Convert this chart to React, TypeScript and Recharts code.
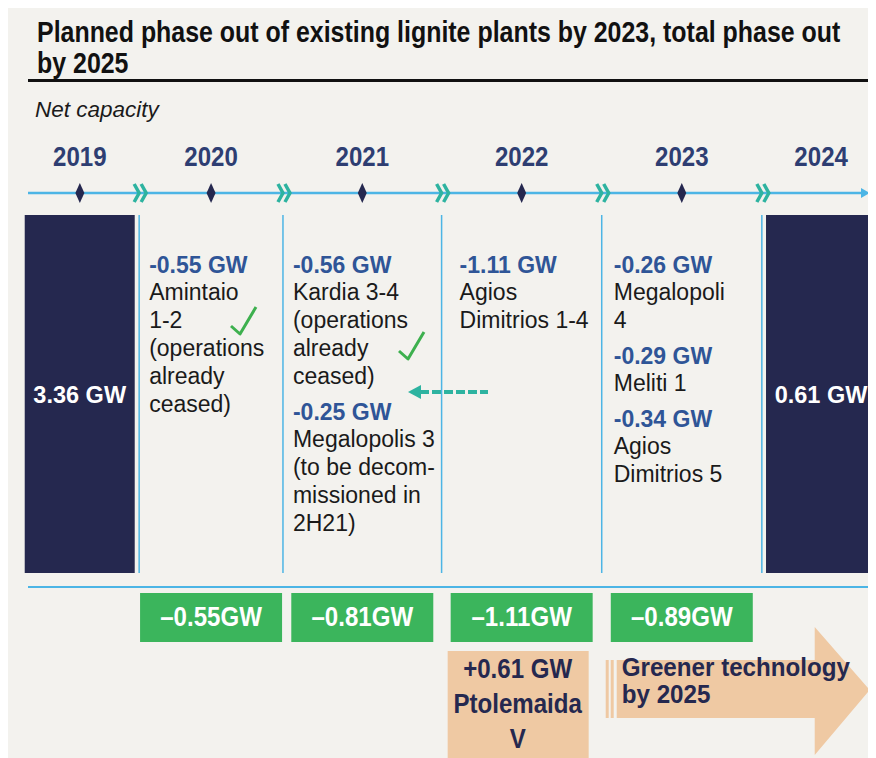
import { ComposedChart, Bar, XAxis, YAxis, ReferenceLine, ReferenceDot, LabelList } from 'recharts'

const years = [2019, 2020, 2021, 2022, 2023, 2024]
const netCapacityGW = [3.36, null, null, null, null, 0.61]
const yearlyChangeGW = [null, -0.55, -0.81, -1.11, -0.89, null]
// x positions (in years) of the light blue column dividers
const columnEdges = [2019.4, 2020.37, 2021.44, 2022.52, 2023.6]

const plants2020 = [{ gw: '-0.55 GW', lines: ['Amintaio', '1-2', '(operations', 'already', 'ceased)'] }]
const plants2021 = [
  { gw: '-0.56 GW', lines: ['Kardia 3-4', '(operations', 'already', 'ceased)'] },
  { gw: '-0.25 GW', lines: ['Megalopolis 3', '(to be decom-', 'missioned in', '2H21)'] },
]
const plants2022 = [{ gw: '-1.11 GW', lines: ['Agios', 'Dimitrios 1-4'] }]
const plants2023 = [
  { gw: '-0.26 GW', lines: ['Megalopoli', '4'] },
  { gw: '-0.29 GW', lines: ['Meliti 1'] },
  { gw: '-0.34 GW', lines: ['Agios', 'Dimitrios 5'] },
]
const plantColumns = [plants2020, plants2021, plants2022, plants2023]
const newPlant = ['+0.61 GW', 'Ptolemaida', 'V']
const outlook = ['Greener technology', 'by 2025']

const rows = years.map((year, i) => ({
  year,
  box: netCapacityGW[i] != null ? 1 : null,
  cap: netCapacityGW[i],
}))

// year labels sit in the middle of their column (the bar columns on the year itself)
const yearTicks = years.map((y, i) =>
  i === 0 || i === years.length - 1 ? y : (columnEdges[i - 1] + columnEdges[i]) / 2
)

const NAVY = '#25284f'
const YEAR_BLUE = '#2e3e72'
const VALUE_BLUE = '#2f5597'
const LINE_BLUE = '#4cb5e5'
const TEAL = '#2db3a0'
const GREEN = '#3bb55c'
const BEIGE = '#efc9a3'
const BG = '#f3f2ee'
const FONT = "'Liberation Sans', Arial, sans-serif"
const NARROW = 0.86

function Narrow({ x, y, size, color, anchor = 'start', sx = NARROW, children }: any) {
  return (
    <text
      transform={`translate(${x},${y}) scale(${sx},1)`}
      fontSize={size}
      fontWeight="bold"
      fill={color}
      textAnchor={anchor}
      fontFamily={FONT}
    >
      {children}
    </text>
  )
}

function YearTick({ x, index }: any) {
  const year = years[index]
  return (
    <g>
      <Narrow x={x} y={158} size={28} color={YEAR_BLUE} anchor="middle">
        {year}
      </Narrow>
      {year < 2024 && (
        <path d={`M${x},${175} L${x + 4.5},${185} L${x},${195} L${x - 4.5},${185} Z`} fill={NAVY} />
      )}
    </g>
  )
}

function Chevrons({ cx, cy }: any) {
  const y = cy - 22
  const x = cx + 2
  return (
    <g fill="none" stroke={TEAL} strokeWidth={3.5}>
      <polyline points={`${x - 7},${y - 9} ${x - 2},${y} ${x - 7},${y + 9}`} />
      <polyline points={`${x},${y - 9} ${x + 5},${y} ${x},${y + 9}`} />
    </g>
  )
}

function PlantText({ cx, cy, entries, inset }: any) {
  const out: any[] = []
  let y = cy + 58
  entries.forEach((e: any, i: number) => {
    if (i > 0) y += 36
    out.push(
      <text key={'v' + i} x={cx + inset} y={y} fill={VALUE_BLUE} fontWeight="bold" fontSize={23} fontFamily={FONT}>
        {e.gw}
      </text>
    )
    e.lines.forEach((l: string, j: number) => {
      y += j === 0 ? 27 : 28
      out.push(
        <text key={'l' + i + j} x={cx + inset} y={y} fill="#1a1a1a" fontSize={23} fontFamily={FONT}>
          {l}
        </text>
      )
    })
  })
  return <g>{out}</g>
}

function ChangeBox({ cx, cy, value }: any) {
  return (
    <g>
      <rect x={cx - 71} y={cy + 20} width={142} height={49} fill={GREEN} />
      <Narrow x={cx} y={cy + 53} size={28} color="#ffffff" anchor="middle">
        {'\u2013' + Math.abs(value).toFixed(2) + 'GW'}
      </Narrow>
    </g>
  )
}

function NewPlantBox({ cx, cy }: any) {
  return (
    <g>
      <rect x={cx - 74} y={cy + 78} width={141} height={120} fill={BEIGE} />
      {newPlant.map((t, i) => (
        <Narrow key={t} x={cx - 4} y={cy + 105 + i * 35} size={28} color={NAVY} anchor="middle">
          {t}
        </Narrow>
      ))}
    </g>
  )
}

function OutlookArrow({ cx, cy }: any) {
  const x0 = cx + 15
  const xh = cx + 213
  const tip = cx + 268
  return (
    <g>
      <rect x={cx + 4} y={cy + 87} width={3} height={58} fill={BEIGE} />
      <rect x={cx + 9} y={cy + 87} width={3} height={58} fill={BEIGE} />
      <path
        d={`M${x0},${cy + 87} L${xh},${cy + 87} L${xh},${cy + 54} L${tip},${cy + 117} L${xh},${cy + 182} L${xh},${cy + 145} L${x0},${cy + 145} Z`}
        fill={BEIGE}
      />
      {outlook.map((t, i) => (
        <Narrow key={t} x={cx + 20} y={cy + 103 + i * 27} size={26} sx={0.93} color={NAVY}>
          {t}
        </Narrow>
      ))}
    </g>
  )
}

function CapLabel({ x, y, width, height, value }: any) {
  if (value == null) return null
  return (
    <text
      x={x + width / 2}
      y={y + height / 2 + 9}
      fill="#ffffff"
      fontWeight="bold"
      fontSize={23.5}
      textAnchor="middle"
      fontFamily={FONT}
    >
      {value.toFixed(2)} GW
    </text>
  )
}

function Check({ x, y }: any) {
  return (
    <path
      d={`M${x},${y + 19} L${x + 9},${y + 27} L${x + 25},${y}`}
      fill="none"
      stroke="#3db04e"
      strokeWidth={3}
      strokeLinejoin="round"
    />
  )
}

const textInset = [10, 10, 18, 12]

export default function App() {
  return (
    <div style={{ width: 868, height: 750, background: BG }}>
      <ComposedChart
        width={868}
        height={750}
        data={rows}
        margin={{ top: 147, right: 0, bottom: 185, left: 17 }}
      >
        <XAxis
          dataKey="year"
          type="number"
          orientation="top"
          height={60}
          domain={[2018.63, 2024.37]}
          ticks={yearTicks}
          interval={0}
          axisLine={false}
          tickLine={false}
          tick={(p: any) => <YearTick {...p} />}
        />
        <YAxis hide type="number" domain={[0, 1]} />

        {/* header */}
        <text transform={`translate(29,34) scale(${NARROW},1)`} fontSize={29} fontWeight="bold" fill="#111" fontFamily={FONT}>
          Planned phase out of existing lignite plants by 2023, total phase out
        </text>
        <text transform={`translate(29,65) scale(${NARROW},1)`} fontSize={29} fontWeight="bold" fill="#111" fontFamily={FONT}>
          by 2025
        </text>
        <rect x={20} y={71} width={848} height={3} fill="#111" />
        <text x={27} y={109} fontSize={22.5} fontStyle="italic" fill="#1a1a1a" fontFamily={FONT}>
          Net capacity
        </text>

        {/* timeline */}
        <line x1={20} y1={185} x2={856} y2={185} stroke={LINE_BLUE} strokeWidth={2.5} />
        <path d="M853,180 L862,185 L853,190 Z" fill={LINE_BLUE} />
        <line x1={20} y1={579} x2={868} y2={579} stroke={LINE_BLUE} strokeWidth={2} />

        {columnEdges.map((e) => (
          <ReferenceLine key={'s' + e} x={e} stroke={LINE_BLUE} strokeWidth={1.5} />
        ))}
        {columnEdges.map((e) => (
          <ReferenceDot key={'c' + e} x={e} y={1} r={0} shape={(p: any) => <Chevrons {...p} />} />
        ))}

        <Bar dataKey="box" fill={NAVY} barSize={110} isAnimationActive={false}>
          <LabelList dataKey="cap" content={(p: any) => <CapLabel {...p} />} />
        </Bar>

        {plantColumns.map((entries, i) => (
          <ReferenceDot
            key={'t' + i}
            x={columnEdges[i]}
            y={1}
            r={0}
            shape={(p: any) => <PlantText {...p} entries={entries} inset={textInset[i]} />}
          />
        ))}

        {yearlyChangeGW.map((v, i) =>
          v == null ? null : (
            <ReferenceDot
              key={'g' + i}
              x={(columnEdges[i - 1] + columnEdges[i]) / 2}
              y={0}
              r={0}
              shape={(p: any) => <ChangeBox {...p} value={v} />}
            />
          )
        )}

        <ReferenceDot
          x={(columnEdges[2] + columnEdges[3]) / 2}
          y={0}
          r={0}
          shape={(p: any) => <NewPlantBox {...p} />}
        />
        <ReferenceDot x={columnEdges[3]} y={0} r={0} shape={(p: any) => <OutlookArrow {...p} />} />

        {/* ticks and moved-plant arrow */}
        <Check x={223} y={299} />
        <Check x={391} y={324} />
        <line x1={412} y1={384} x2={480} y2={384} stroke={TEAL} strokeWidth={4} strokeDasharray="9 3" />
        <path d="M400,384 L413,377 L413,391 Z" fill={TEAL} />
      </ComposedChart>
    </div>
  )
}
